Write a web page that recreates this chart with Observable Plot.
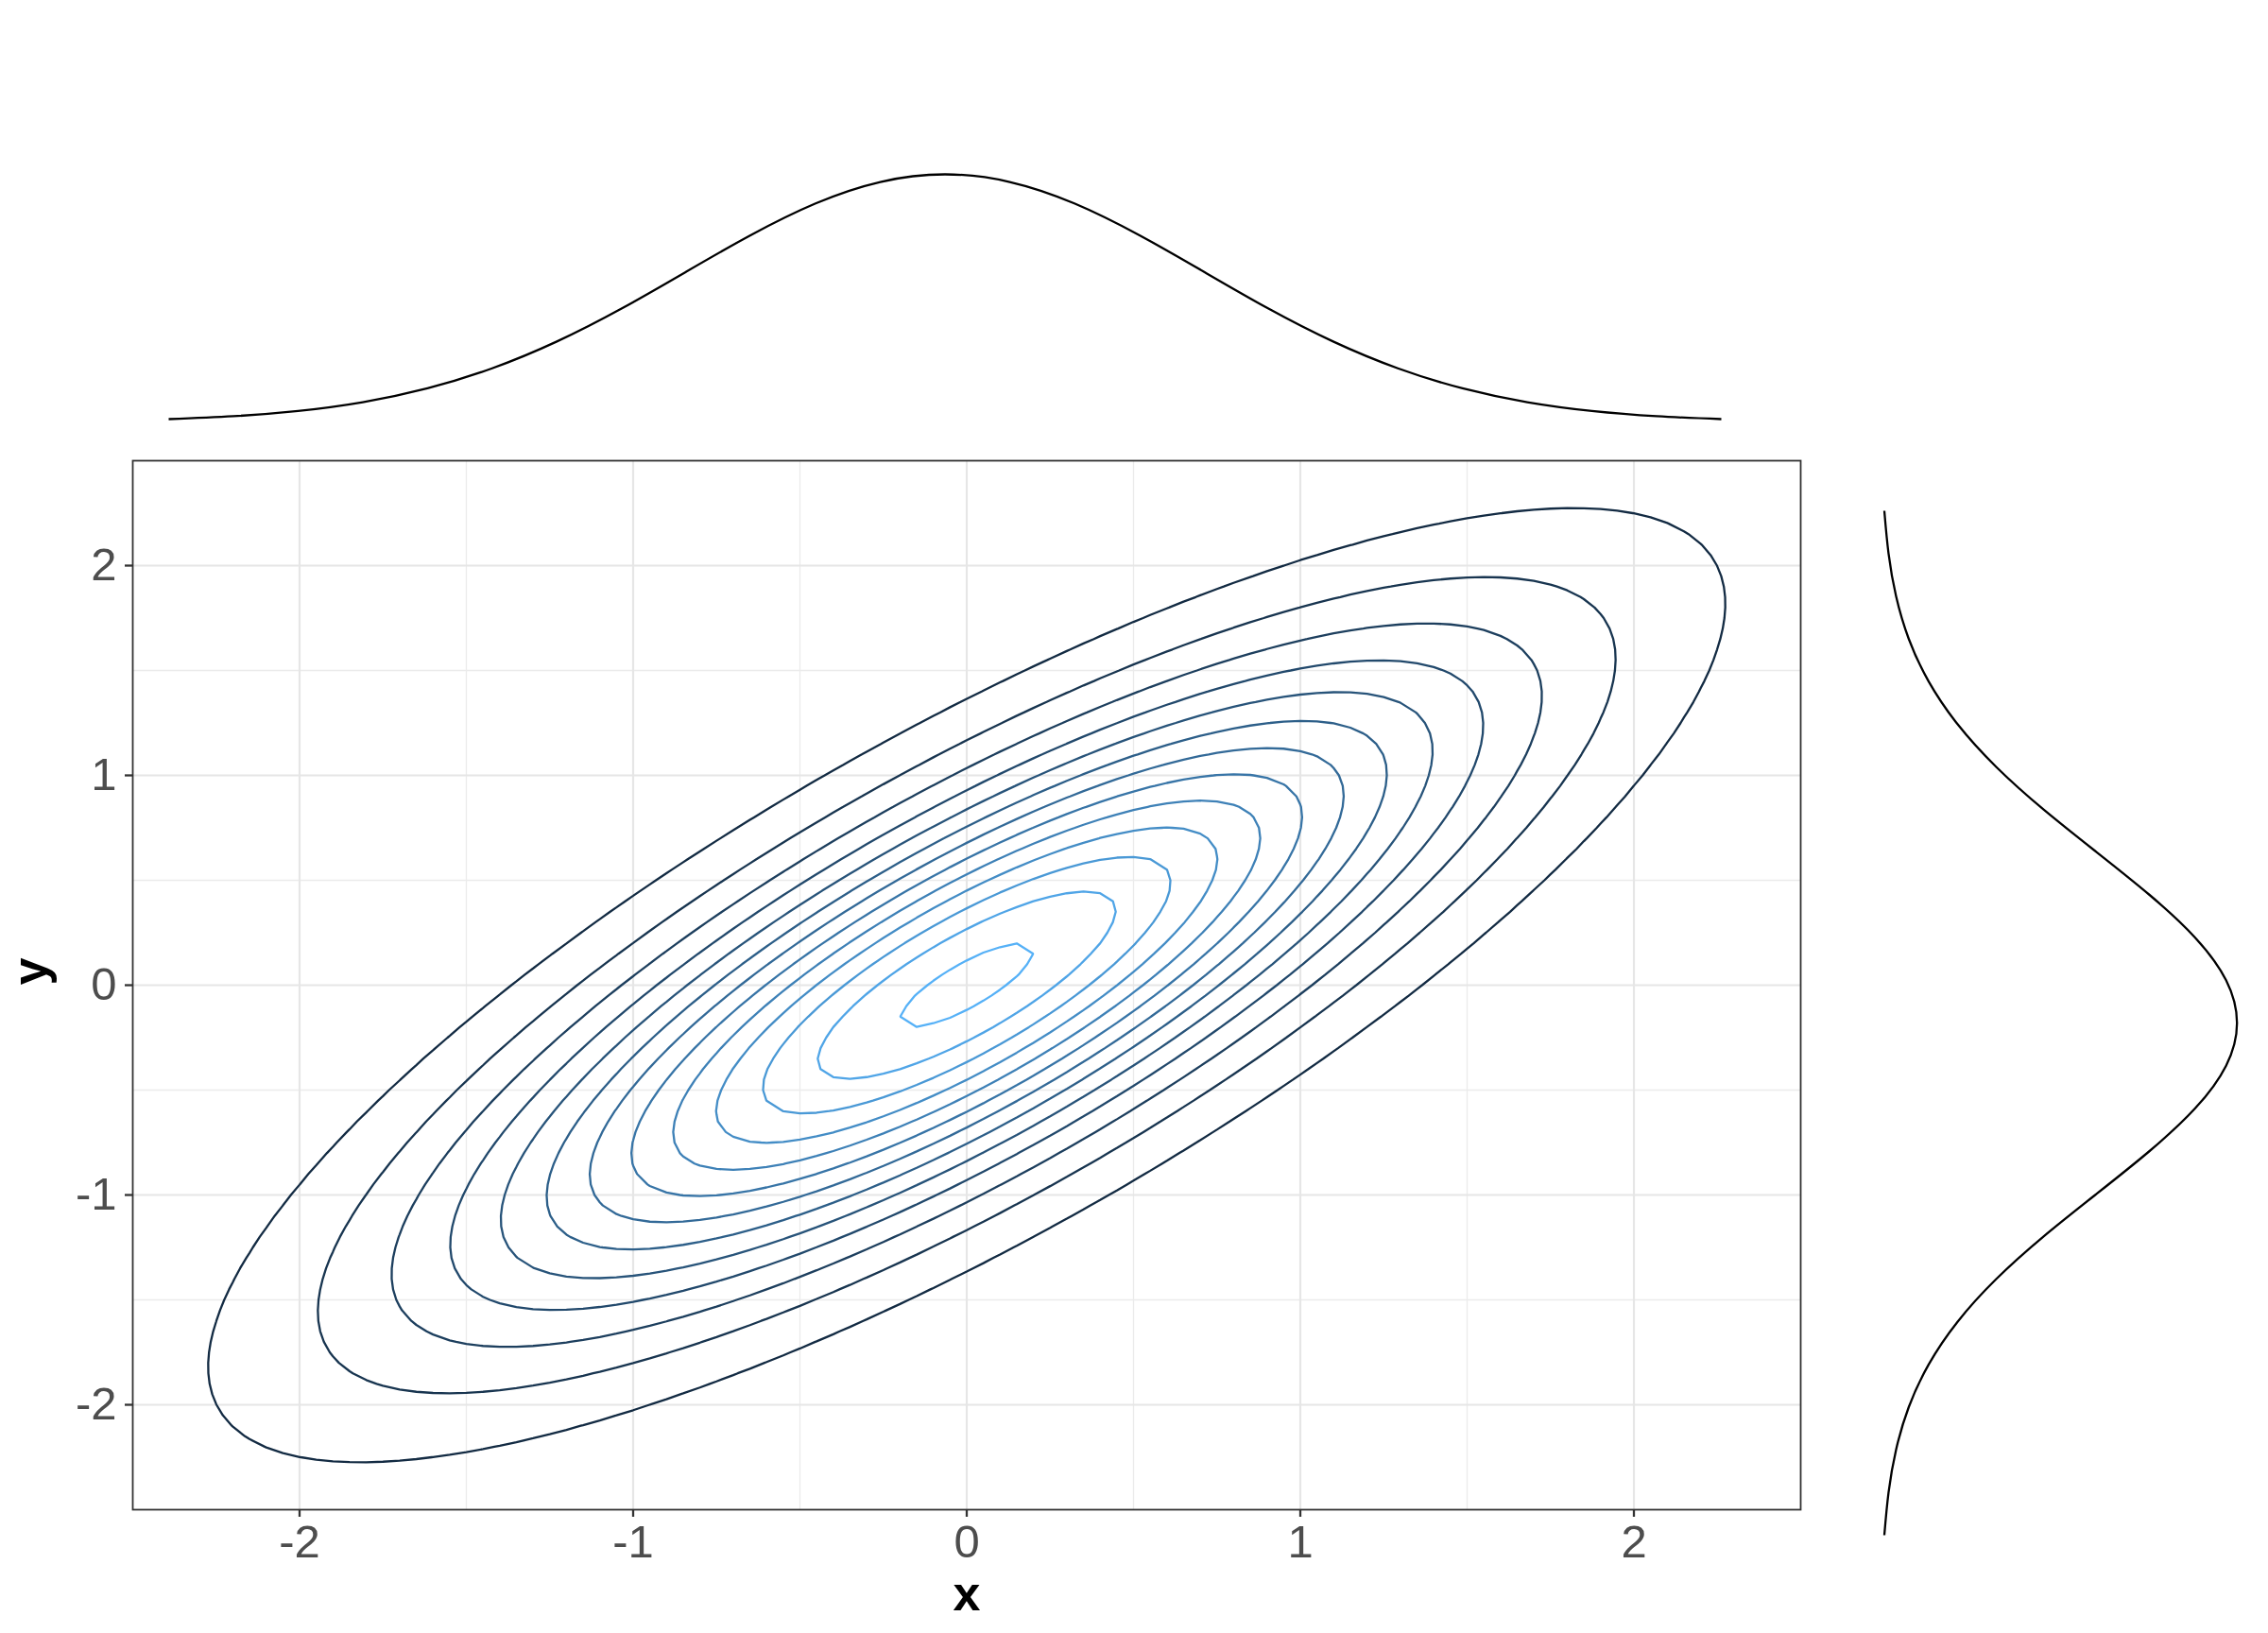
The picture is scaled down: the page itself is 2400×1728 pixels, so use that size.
<!DOCTYPE html>
<html>
<head>
<meta charset="utf-8">
<script src="https://cdn.jsdelivr.net/npm/d3@7"></script>
<script src="https://cdn.jsdelivr.net/npm/@observablehq/plot@0.6"></script>
<style>
html, body { margin: 0; padding: 0; background: #ffffff; }
#fig { position: relative; width: 2400px; height: 1728px; background: #ffffff; overflow: hidden; }
#fig > svg { position: absolute; }
</style>
</head>
<body>
<div id="fig"></div>
<script>
// ---- tick values and labels ----
const xTicks = [-2, -1, 0, 1, 2];
const xTickLabels = ["-2", "-1", "0", "1", "2"];
const yTicks = [-2, -1, 0, 1, 2];
const yTickLabels = ["-2", "-1", "0", "1", "2"];
const minorTicks = [-1.5, -0.5, 0.5, 1.5];
const xDomain = [-2.5, 2.5];
const yDomain = [-2.5, 2.5];

// ---- bivariate normal ----
const meanXY = [0, 0];
const sdXY = [1, 1];
const correlation = 0.8;
const contourLevels = [0.02, 0.04, 0.06, 0.08, 0.10, 0.12, 0.14, 0.16, 0.18, 0.20, 0.22, 0.24, 0.26];
const levelColors = ["#132B43", "#56B1F7"];

// ---- marginal density curves ----
const marginalGrid = [-3, -2.75, -2.5, -2.25, -2, -1.75, -1.5, -1.25, -1, -0.75, -0.5, -0.25, 0,
                      0.25, 0.5, 0.75, 1, 1.25, 1.5, 1.75, 2, 2.25, 2.5, 2.75, 3];
const marginalDensity = [0.0044, 0.0091, 0.0175, 0.0317, 0.0540, 0.0863, 0.1295, 0.1826, 0.2420, 0.3011, 0.3521, 0.3867, 0.3989,
                         0.3867, 0.3521, 0.3011, 0.2420, 0.1826, 0.1295, 0.0863, 0.0540, 0.0317, 0.0175, 0.0091, 0.0044];

const fontStack = "'Liberation Sans', Arial, Helvetica, sans-serif";
const margRows = marginalGrid.map((g, i) => ({g, d: marginalDensity[i]}));

function bivariateDensity(x, y) {
  const r2 = 1 - correlation * correlation;
  const zx = (x - meanXY[0]) / sdXY[0];
  const zy = (y - meanXY[1]) / sdXY[1];
  const q = (zx * zx - 2 * correlation * zx * zy + zy * zy) / r2;
  return Math.exp(-q / 2) / (2 * Math.PI * sdXY[0] * sdXY[1] * Math.sqrt(r2));
}

const figEl = document.getElementById("fig");

// ---- top marginal ----
const topPlot = Plot.plot({
  width: 2000, height: 460,
  marginLeft: 178, marginRight: 179, marginTop: 184, marginBottom: 17,
  x: {domain: d3.extent(marginalGrid), axis: null},
  y: {domain: d3.extent(marginalDensity), axis: null},
  style: {background: "transparent", fontFamily: fontStack},
  marks: [
    Plot.line(margRows, {x: "g", y: "d", curve: "natural", stroke: "#000000", strokeWidth: 2.3, strokeLinecap: "butt"})
  ]
});
topPlot.style.left = "0px"; topPlot.style.top = "0px";
figEl.appendChild(topPlot);

// ---- right marginal ----
const rightPlot = Plot.plot({
  width: 450, height: 1160,
  marginLeft: 43.5, marginRight: 33.3, marginTop: 40, marginBottom: 36,
  x: {domain: d3.extent(marginalDensity), axis: null},
  y: {domain: d3.extent(marginalGrid), axis: null},
  style: {background: "transparent", fontFamily: fontStack},
  marks: [
    Plot.line(margRows, {x: "d", y: "g", curve: "natural", stroke: "#000000", strokeWidth: 2.3, strokeLinecap: "butt"})
  ]
});
rightPlot.style.left = "1950px"; rightPlot.style.top = "500px";
figEl.appendChild(rightPlot);

// ---- main contour panel ----
const mainPlot = Plot.plot({
  width: 1960, height: 1291,
  marginLeft: 140, marginRight: 55, marginTop: 50, marginBottom: 131,
  x: {domain: xDomain},
  y: {domain: yDomain},
  color: {type: "linear", domain: [contourLevels[0], contourLevels[contourLevels.length - 1]], range: levelColors, interpolate: "lab"},
  style: {background: "transparent", fontFamily: fontStack},
  marks: [
    Plot.ruleX(minorTicks, {stroke: "#EBEBEB", strokeWidth: 1.3}),
    Plot.ruleY(minorTicks, {stroke: "#EBEBEB", strokeWidth: 1.3}),
    Plot.ruleX(xTicks, {stroke: "#E6E6E6", strokeWidth: 2.2}),
    Plot.ruleY(yTicks, {stroke: "#E6E6E6", strokeWidth: 2.2}),
    Plot.contour({
      value: bivariateDensity,
      x1: -2.525, x2: 2.525, y1: -2.525, y2: 2.525,
      width: 101, height: 101,
      thresholds: contourLevels,
      stroke: "value", fill: "none", strokeWidth: 2.3
    }),
    Plot.frame({stroke: "#333333", strokeWidth: 1.8}),
    Plot.axisX(xTicks, {
      tickSize: 8, tickPadding: 8, fontSize: 49,
      tickFormat: d => xTickLabels[xTicks.indexOf(d)],
      stroke: "#333333", strokeWidth: 2.3, fill: "#4D4D4D", label: null
    }),
    Plot.axisY(yTicks, {
      tickSize: 8, tickPadding: 9, fontSize: 49,
      tickFormat: d => yTickLabels[yTicks.indexOf(d)],
      stroke: "#333333", strokeWidth: 2.3, fill: "#4D4D4D", label: null
    }),
    Plot.text(["x"], {text: d => d, frameAnchor: "bottom", dy: 106, lineAnchor: "bottom",
      fontWeight: "bold", fontSize: 52, fill: "#000000"}),
    Plot.text(["y"], {text: d => d, frameAnchor: "left", dx: -92, rotate: -90, lineAnchor: "bottom",
      fontWeight: "bold", fontSize: 52, fill: "#000000"})
  ]
});
mainPlot.style.left = "0px"; mainPlot.style.top = "437px";
figEl.appendChild(mainPlot);
</script>
</body>
</html>
